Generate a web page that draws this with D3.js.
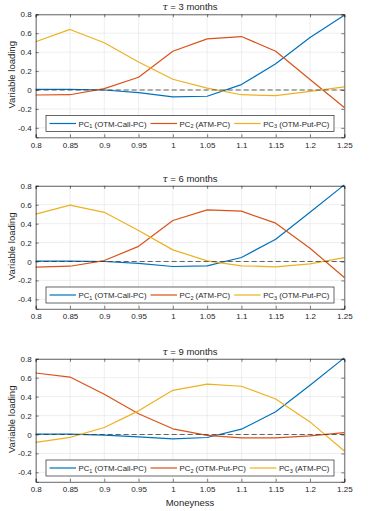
<!DOCTYPE html>
<html>
<head>
<meta charset="utf-8">
<script src="https://cdn.jsdelivr.net/npm/d3@7"></script>
<style>
  body { margin: 0; background: #fff; }
  text { font-family: "Liberation Sans", Arial, sans-serif; fill: #262626; }
</style>
</head>
<body>
<svg width="378" height="511"></svg>
<script>
// moneyness grid, shared by all panels
const moneyness = [0.8, 0.85, 0.9, 0.95, 1, 1.05, 1.1, 1.15, 1.2, 1.25];
const xTicks = moneyness;
const xTickLabels = ["0.8", "0.85", "0.9", "0.95", "1", "1.05", "1.1", "1.15", "1.2", "1.25"];
const yTicks = [-0.4, -0.2, 0, 0.2, 0.4, 0.6, 0.8];
const yTickLabels = ["-0.4", "-0.2", "0", "0.2", "0.4", "0.6", "0.8"];

// tau = 3 months
const pc1_3m = [0.007, 0.007, 0, -0.028, -0.073, -0.066, 0.057, 0.277, 0.555, 0.79];
const pc2_3m = [-0.053, -0.05, 0.014, 0.135, 0.41, 0.54, 0.565, 0.41, 0.11, -0.185];
const pc3_3m = [0.51, 0.64, 0.5, 0.295, 0.114, 0.02, -0.05, -0.06, -0.014, 0.032];

// tau = 6 months
const pc1_6m = [0.004, 0.004, 0, -0.02, -0.053, -0.046, 0.042, 0.236, 0.52, 0.81];
const pc2_6m = [-0.06, -0.05, 0.01, 0.16, 0.433, 0.546, 0.532, 0.405, 0.14, -0.17];
const pc3_6m = [0.5, 0.595, 0.52, 0.328, 0.123, 0.007, -0.046, -0.056, -0.025, 0.04];

// tau = 9 months
const pc1_9m = [0.004, 0.004, -0.007, -0.025, -0.046, -0.032, 0.056, 0.24, 0.52, 0.81];
const pc2_9m = [0.65, 0.607, 0.425, 0.22, 0.06, -0.01, -0.035, -0.035, -0.014, 0.02];
const pc3_9m = [-0.084, -0.03, 0.074, 0.25, 0.467, 0.533, 0.51, 0.375, 0.133, -0.175];

const titles = ["3", "6", "9"];
const legend3m = ["(OTM-Call-PC)", "(ATM-PC)", "(OTM-Put-PC)"];
const legend6m = ["(OTM-Call-PC)", "(ATM-PC)", "(OTM-Put-PC)"];
const legend9m = ["(OTM-Call-PC)", "(OTM-Put-PC)", "(ATM-PC)"];

const colors = ["#0072BD", "#D95319", "#EDB120"];

const panels = [
  { title: titles[0], series: [pc1_3m, pc2_3m, pc3_3m], legend: legend3m, top: 14.3 },
  { title: titles[1], series: [pc1_6m, pc2_6m, pc3_6m], legend: legend6m, top: 185.8 },
  { title: titles[2], series: [pc1_9m, pc2_9m, pc3_9m], legend: legend9m, top: 358.8 }
];

const left = 35.7, right = 344.3, plotH = 123;
const svg = d3.select("svg");

const x = d3.scaleLinear().domain([0.8, 1.25]).range([left, right]);

panels.forEach((p, pi) => {
  const y = d3.scaleLinear().domain([-0.5, 0.8]).range([p.top + plotH, p.top]);
  const g = svg.append("g");

  /* ----------- grid ----------- */
  g.selectAll("line.gx").data(xTicks).enter().append("line")
    .attr("x1", d => x(d)).attr("x2", d => x(d))
    .attr("y1", p.top).attr("y2", p.top + plotH)
    .attr("stroke", "#e3e3e3").attr("stroke-width", 0.6);
  g.selectAll("line.gy").data(yTicks).enter().append("line")
    .attr("x1", left).attr("x2", right)
    .attr("y1", d => y(d)).attr("y2", d => y(d))
    .attr("stroke", "#e3e3e3").attr("stroke-width", 0.6);

  /* ----------- series ----------- */
  const line = d3.line().x((d, i) => x(moneyness[i])).y(d => y(d));
  p.series.forEach((s, si) => {
    g.append("path").datum(s)
      .attr("fill", "none")
      .attr("stroke", colors[si])
      .attr("stroke-width", 1.2)
      .attr("stroke-linejoin", "round")
      .attr("d", line);
  });

  // zero line
  g.append("line")
    .attr("x1", left).attr("x2", right)
    .attr("y1", y(0)).attr("y2", y(0))
    .attr("stroke", "#333").attr("stroke-width", 1)
    .attr("stroke-dasharray", "5,3")
    .attr("opacity", 0.75);

  /* ----------- axes ----------- */
  const xb = g.append("g").attr("transform", `translate(0,${p.top + plotH})`)
    .call(d3.axisBottom(x).tickValues(xTicks).tickSize(-3).tickPadding(5)
      .tickFormat((d, i) => xTickLabels[i]));
  const xt = g.append("g").attr("transform", `translate(0,${p.top})`)
    .call(d3.axisTop(x).tickValues(xTicks).tickSize(-3).tickFormat(""));
  const yl = g.append("g").attr("transform", `translate(${left},0)`)
    .call(d3.axisLeft(y).tickValues(yTicks).tickSize(-3).tickPadding(4)
      .tickFormat((d, i) => yTickLabels[i]));
  const yr = g.append("g").attr("transform", `translate(${right},0)`)
    .call(d3.axisRight(y).tickValues(yTicks).tickSize(-3).tickFormat(""));
  [xb, xt, yl, yr].forEach(a => {
    a.select(".domain").attr("stroke", "#262626").attr("stroke-width", 0.7);
    a.selectAll(".tick line").attr("stroke", "#262626").attr("stroke-width", 0.6);
    a.selectAll("text").attr("font-size", 8).attr("fill", "#262626")
      .attr("font-family", "Liberation Sans, Arial, sans-serif");
  });

  /* ----------- title ----------- */
  const t = g.append("text")
    .attr("x", (left + right) / 2).attr("y", p.top - 4)
    .attr("text-anchor", "middle").attr("font-size", 9.5);
  t.append("tspan").attr("font-style", "italic").attr("font-family", "DejaVu Serif, serif").text("τ");
  t.append("tspan").text(` = ${p.title} months`);

  // y label
  g.append("text")
    .attr("transform", `translate(15,${p.top + plotH / 2 - 1}) rotate(-90)`)
    .attr("text-anchor", "middle").attr("font-size", 9.5)
    .text("Variable loading");

  /* ----------- legend ----------- */
  const lx = 46, lw = 288, lh = 16, ly = p.top + plotH - 5.8 - lh;
  g.append("rect")
    .attr("x", lx).attr("y", ly).attr("width", lw).attr("height", lh)
    .attr("fill", "#fff").attr("stroke", "#262626").attr("stroke-width", 0.7);
  let cx = lx + 3.5;
  p.legend.forEach((name, li) => {
    g.append("line")
      .attr("x1", cx).attr("x2", cx + 26.5)
      .attr("y1", ly + lh / 2).attr("y2", ly + lh / 2)
      .attr("stroke", colors[li]).attr("stroke-width", 1.2);
    const lt = g.append("text")
      .attr("x", cx + 29).attr("y", ly + lh / 2 + 3)
      .attr("font-size", 7.8);
    lt.append("tspan").text("PC");
    lt.append("tspan").attr("font-size", 5.5).attr("dy", 1.8).text(li + 1);
    lt.append("tspan").attr("dy", -1.8).text(" " + name);
    cx = cx + 29 + lt.node().getComputedTextLength() + 4;
  });
});

// x label
svg.append("text")
  .attr("x", (left + right) / 2).attr("y", 506)
  .attr("text-anchor", "middle").attr("font-size", 9.5)
  .text("Moneyness");
</script>
</body>
</html>
